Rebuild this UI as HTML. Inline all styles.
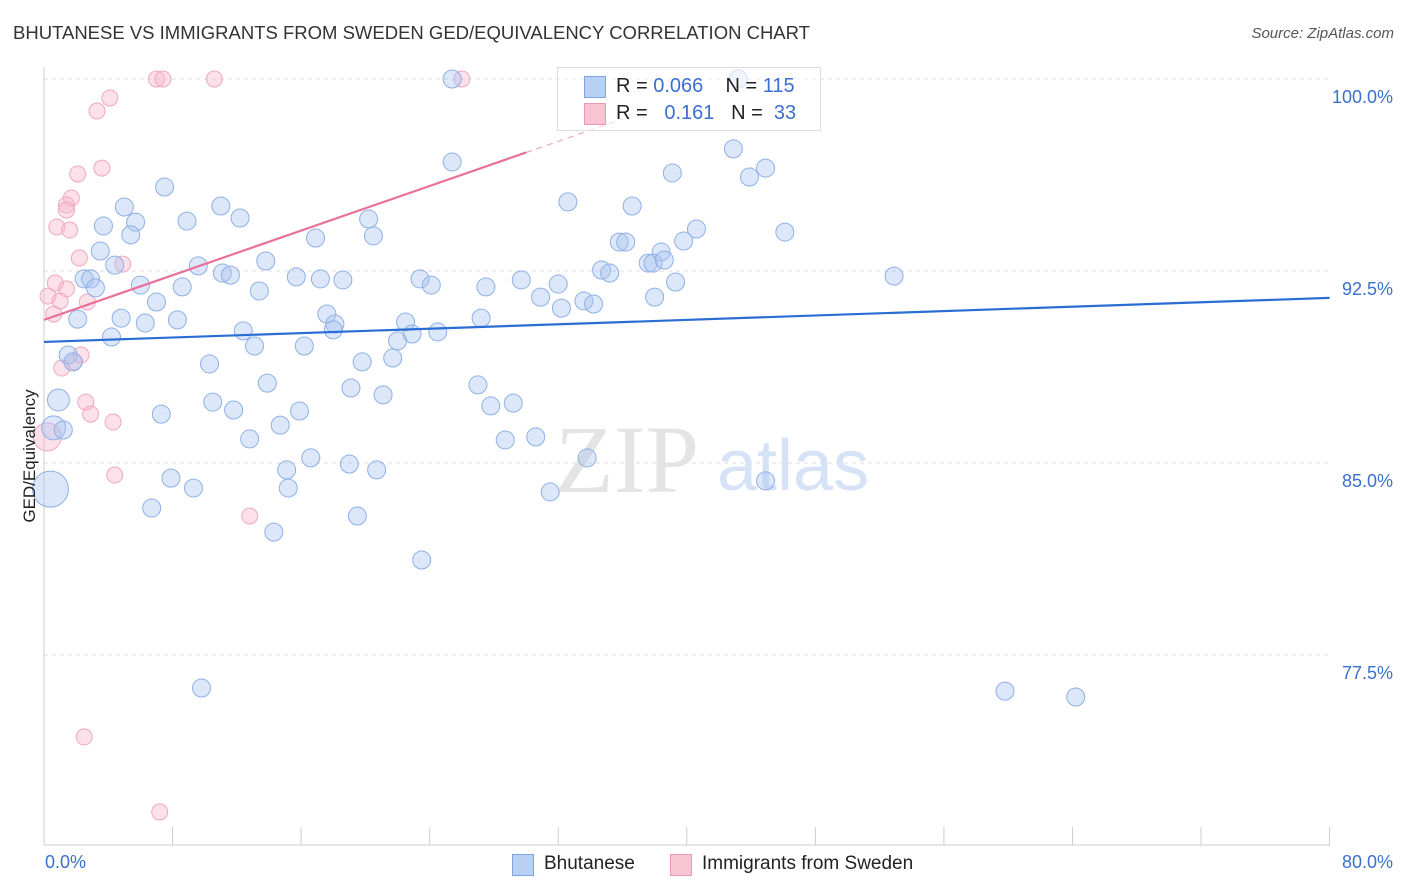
<!DOCTYPE html>
<html><head><meta charset="utf-8">
<style>
body{margin:0;background:#fff;font-family:"Liberation Sans",sans-serif;}
#wrap{position:relative;width:1406px;height:892px;overflow:hidden;}
.t{position:absolute;white-space:nowrap;}
</style></head>
<body>
<div id="wrap">
<div class="t" style="left:13px;top:22px;font-size:18.5px;color:#333;">BHUTANESE VS IMMIGRANTS FROM SWEDEN GED/EQUIVALENCY CORRELATION CHART</div>
<div class="t" style="right:12px;top:25px;font-size:15px;color:#555;font-style:italic;">Source: ZipAtlas.com</div>
<svg id="svg" width="1406" height="892" style="position:absolute;left:0;top:0"></svg>
</div>
<script>
const xTicksLabels=["0.0%","80.0%"];
const yTicks=[100,92.5,85,77.5];
const yTickLabels=["100.0%","92.5%","85.0%","77.5%"];
const blueX=[43.2,25.4,25.4,42.9,44.9,43.9,39.1,7.5,5.0,11.0,32.6,36.6,3.7,5.7,8.9,12.2,20.2,40.6,46.1,5.4,16.9,20.5,35.8,36.2,38.4,39.8,3.5,4.4,13.8,9.6,37.6,37.9,38.6,34.7,35.2,2.5,2.9,6.0,8.6,11.1,11.6,13.4,15.7,17.2,18.6,23.4,24.1,27.5,29.7,32.0,39.3,52.9,3.2,7.0,30.9,33.6,34.2,38.0,32.2,2.1,4.8,6.3,8.3,17.6,18.1,18.0,22.5,27.2,24.5,22.9,12.4,4.2,13.1,16.2,22.0,19.8,21.7,1.5,1.8,10.3,0.9,13.9,19.1,21.1,27.0,10.5,11.8,7.3,15.9,27.8,29.2,14.7,12.8,0.6,1.2,28.7,30.6,16.6,19.0,20.7,15.1,7.9,15.2,9.3,33.8,44.9,0.4,31.5,6.7,19.5,14.3,23.5,9.8,59.8,64.2];
const blueY=[100,100,96.76,97.27,96.52,96.17,96.33,95.78,95.0,95.04,95.2,95.04,94.26,94.41,94.45,94.57,94.53,94.14,94.02,93.91,93.79,93.87,93.63,93.63,93.24,93.67,93.28,92.73,92.89,92.7,92.81,92.81,92.93,92.54,92.42,92.19,92.19,91.95,91.88,92.42,92.34,91.72,92.27,92.19,92.15,92.19,91.95,91.88,92.15,91.99,92.07,92.3,91.84,91.29,91.48,91.33,91.21,91.48,91.05,90.62,90.66,90.47,90.59,90.82,90.43,90.2,90.51,90.66,90.12,90.04,90.16,89.92,89.57,89.57,89.77,88.95,89.1,89.22,88.95,88.87,87.46,88.12,87.93,87.66,88.05,87.38,87.07,86.91,87.03,87.23,87.34,86.48,85.94,86.37,86.29,85.9,86.02,85.2,84.96,84.73,84.73,84.41,84.02,84.02,85.2,84.3,83.98,83.87,83.24,82.93,82.3,81.21,76.21,76.09,75.86];
const blueR={80:11,93:12,106:18};
const pinkX=[7.0,7.4,10.6,26.0,4.1,3.3,3.6,2.1,1.7,1.4,1.4,0.8,1.6,2.2,4.9,0.7,1.4,0.25,1.0,2.7,0.6,2.3,1.1,1.9,2.6,2.9,4.3,0.2,4.4,12.8,2.5,7.2];
const pinkY=[100,100,100,100,99.26,98.75,96.52,96.29,95.35,95.08,94.88,94.22,94.1,93.01,92.77,92.03,91.8,91.52,91.33,91.29,90.82,89.22,88.71,88.95,87.38,86.91,86.6,86.02,84.53,82.93,74.3,71.37];
const pinkR={27:14};
const blueTrend=[89.73,91.45];
const pinkTrend=[90.59,0.218];
const X=v=>44+v*16.07, Y=v=>79+(100-v)*25.6;
const svg=document.getElementById('svg');
const NS='http://www.w3.org/2000/svg';
function mk(tag,attrs,parent){const e=document.createElementNS(NS,tag);for(const k in attrs)e.setAttribute(k,attrs[k]);(parent||svg).appendChild(e);return e;}
yTicks.forEach((v,i)=>{
  const g=mk('line',{x1:44,x2:1330,y1:Y(v),y2:Y(v),stroke:'#ddd','stroke-dasharray':'4,4'});
  
  
  const t=mk('text',{x:1393,y:Y(v)+24,'text-anchor':'end','font-size':18,fill:'#3b6fd0','font-family':'Liberation Sans'});
  t.textContent=yTickLabels[i];
  
  
});
const ax=mk('line',{x1:44,x2:44,y1:67,y2:845,stroke:'#ccc'});


const bx=mk('line',{x1:44,x2:1330,y1:845,y2:845,stroke:'#ccc'});


for(let i=1;i<=10;i++){const tk=mk('line',{x1:X(i*8),x2:X(i*8),y1:827,y2:845,stroke:'#ccc'});

}
const w1=mk('text',{x:555,y:492,'font-size':96,fill:'#e4e4e4','font-family':'Liberation Serif'});w1.textContent='ZIP';


const w2=mk('text',{x:717,y:490,'font-size':72,fill:'#d6e3f6','font-family':'Liberation Sans'});w2.textContent='atlas';


pinkX.forEach((v,i)=>{const c=mk('circle',{cx:X(v),cy:Y(pinkY[i]),r:pinkR[i]||8,fill:'rgba(248,180,200,0.4)',stroke:'#f0a8be','stroke-width':1});

});
blueX.forEach((v,i)=>{const c=mk('circle',{cx:X(v),cy:Y(blueY[i]),r:blueR[i]||9,fill:'rgba(168,196,240,0.4)',stroke:'#8fb0e6','stroke-width':1});

});
const bl=mk('line',{x1:X(0),y1:Y(blueTrend[0]),x2:X(80),y2:Y(blueTrend[1]),stroke:'#2a6dd4','stroke-width':2.2});


const pl=mk('line',{x1:X(0),y1:Y(pinkTrend[0]),x2:X(30),y2:Y(pinkTrend[0]+pinkTrend[1]*30),stroke:'#e8709a','stroke-width':2.2});


const pd=mk('line',{x1:X(30),y1:Y(pinkTrend[0]+pinkTrend[1]*30),x2:X(36),y2:Y(pinkTrend[0]+pinkTrend[1]*36),stroke:'#f0a8be','stroke-width':1.2,'stroke-dasharray':'6,5'});


</script>
<div class="t" style="left:-40px;top:446px;transform:rotate(-90deg);font-size:17px;color:#222;width:140px;text-align:center;">GED/Equivalency</div>
<div class="t" style="left:45px;top:852px;font-size:18px;color:#3b6fd0;">0.0%</div>
<div class="t" style="right:13px;top:852px;font-size:18px;color:#3b6fd0;">80.0%</div>
<div style="position:absolute;left:557px;top:67px;width:262px;height:62px;border:1px solid #ddd;background:rgba(255,255,255,0.6);font-size:20px;color:#222;">
 <div style="position:absolute;left:26px;top:8px;width:20px;height:20px;background:#b8d0f4;border:1px solid #7fa4e0;"></div>
 <div class="t" style="left:58px;top:7px;">R = <span style="color:#3b6fd0">0.066</span>&nbsp;&nbsp;&nbsp; N = <span style="color:#3b6fd0">115</span></div>
 <div style="position:absolute;left:26px;top:35px;width:20px;height:20px;background:#f8c4d4;border:1px solid #ec9ab4;"></div>
 <div class="t" style="left:58px;top:34px;">R = &nbsp;&nbsp;<span style="color:#3b6fd0">0.161</span>&nbsp;&nbsp;&nbsp;N = &nbsp;<span style="color:#3b6fd0">33</span></div>
</div>
<div style="position:absolute;left:512px;top:853px;">
 <div style="position:absolute;left:0;top:1px;width:20px;height:20px;background:#b8d0f4;border:1px solid #7fa4e0;"></div>
 <div class="t" style="left:32px;top:0;font-size:19px;color:#222;">Bhutanese</div>
</div>
<div style="position:absolute;left:670px;top:853px;">
 <div style="position:absolute;left:0;top:1px;width:20px;height:20px;background:#f8c4d4;border:1px solid #ec9ab4;"></div>
 <div class="t" style="left:32px;top:0;font-size:19px;color:#222;">Immigrants from Sweden</div>
</div>
</body></html>
